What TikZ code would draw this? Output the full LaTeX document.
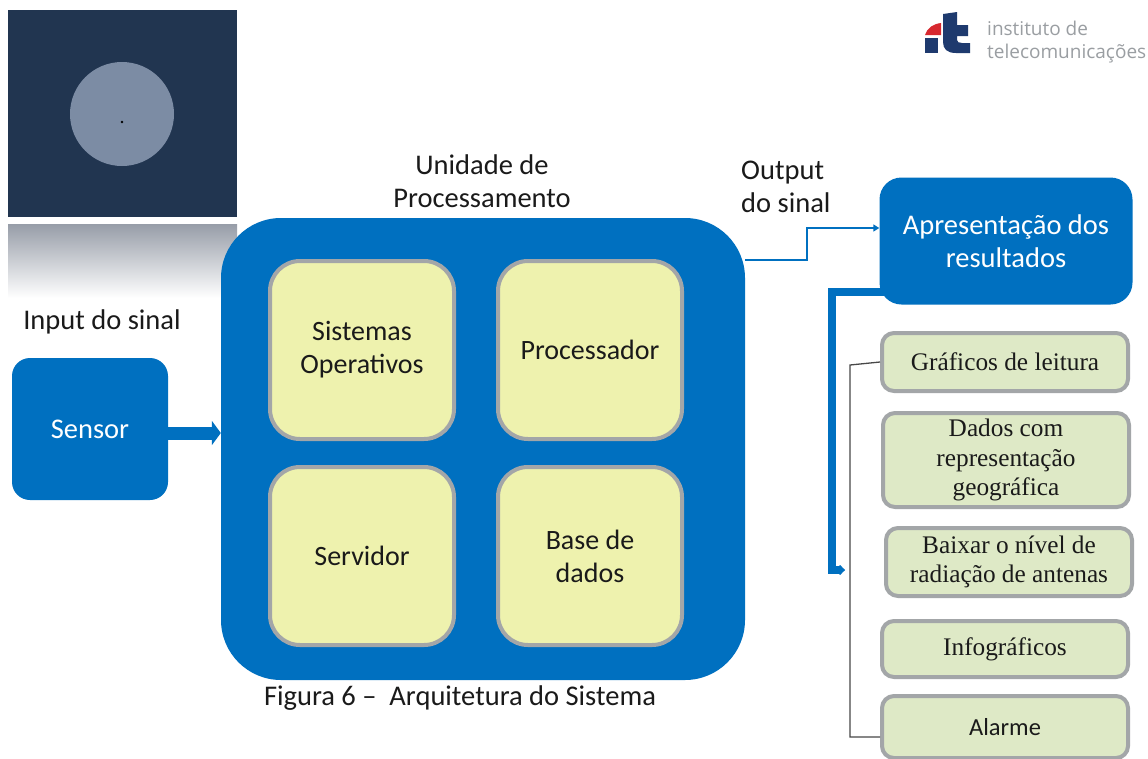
\documentclass[tikz,border=0pt]{standalone}
\usepackage{fontspec}
\setmainfont{Carlito}
\newfontfamily\serifbox{Liberation Serif}
\newfontfamily\logofont{Open Sans}
\usetikzlibrary{arrows.meta}

\definecolor{itblue}{HTML}{0070C0}
\definecolor{panel}{HTML}{213550}
\definecolor{disc}{HTML}{7C8CA4}
\definecolor{boxyellow}{HTML}{EEF2AE}
\definecolor{boxgreen}{HTML}{DEE9C6}
\definecolor{edgegray}{HTML}{A3A6A8}
\definecolor{logoblue}{HTML}{1E3A6E}
\definecolor{logored}{HTML}{D7282F}
\definecolor{logogray}{HTML}{9A9EA2}
\definecolor{bandgray}{HTML}{979DA8}
\definecolor{txt}{HTML}{1A1A1A}

\tikzset{
  bluebox/.style={fill=itblue, draw=none, rounded corners=#1, text=white,
    align=center, font=\fontsize{28.5}{33}\selectfont, inner sep=0pt},
  unitbox/.style={fill=boxyellow, draw=edgegray, line width=4pt, rounded corners=30pt,
    minimum width=184pt, minimum height=178pt, align=center, text=txt,
    font=\fontsize{28}{33}\selectfont, inner sep=0pt},
  outbox/.style={fill=boxgreen, draw=edgegray, line width=4pt, rounded corners=12pt,
    minimum width=246pt, align=center, text=txt, inner sep=0pt,
    font=\serifbox\fontsize{25.3}{29.5}\selectfont},
  label/.style={text=txt, align=center, font=\fontsize{28.5}{33}\selectfont, inner sep=0pt},
}

\begin{document}
\begin{tikzpicture}[x=1pt, y=-1pt]
  % canvas
  \fill[white] (0,0) rectangle (1148,758);
  \useasboundingbox (0,0) rectangle (1148,758);

  % sensor view panel
  \fill[panel] (8,10) rectangle (237,217);
  \fill[disc] (122,114) circle (52);
  \fill[black] (122,122) circle (1.4);
  \shade[top color=bandgray, bottom color=white] (8,224) rectangle (237,298);

  % logo
  \fill[logored] (925,35) .. controls (927,28) and (933,24) .. (941,23) -- (941,35) -- cycle;
  \fill[logoblue] (925,38) rectangle (938,53);
  \fill[logoblue] (943,14) -- (957,12) -- (957,25) -- (968,25) -- (968,36) -- (957,36)
    -- (957,40) .. controls (957,42) and (959,43) .. (962,43) -- (970,43) -- (970,53)
    -- (956,53) .. controls (947,53) and (943,49) .. (943,42) -- cycle;
  \node[text=logogray, font=\logofont\fontsize{19}{23}\selectfont, anchor=north west,
    align=left, inner sep=0pt] (logotext) at (987,21) {instituto de\\telecomunica\c{c}\~oes};

  % labels
  \node[label] (inlabel) at (102,322) {Input do sinal};
  \node[label] (unitlabel) at (482,181) {Unidade de\\Processamento};
  \node[label, anchor=west, align=left] (outlabel) at (741,187) {Output\\do sinal};
  \node[label] (caption) at (460,698) {Figura 6 --\ \ Arquitetura do Sistema};

  % blocks
  \node[bluebox=18pt, minimum width=156pt, minimum height=142pt] (sensor) at (90,429) {Sensor};
  \node[bluebox=60pt, minimum width=524pt, minimum height=462pt] (proc) at (483,449) {};
  \node[unitbox] (so) at (362,350) {Sistemas\\Operativos};
  \node[unitbox] (cpu) at (590,350) {Processador};
  \node[unitbox] (srv) at (362,556) {Servidor};
  \node[unitbox] (db) at (590,556) {Base de\\dados};
  \node[bluebox=22pt, minimum width=253pt, minimum height=127pt] (res) at (1006,241)
    {Apresenta\c{c}\~ao dos\\resultados};

  \node[outbox, minimum height=58pt] (g1) at (1005,362) {Gr\'aficos de leitura};
  \node[outbox, minimum height=94pt] (g2) at (1006,460) {Dados com\\representa\c{c}\~ao\\geogr\'afica};
  \node[outbox, minimum height=68pt] (g3) at (1009,562) {Baixar o n\'ivel de\\radia\c{c}\~ao de antenas};
  \node[outbox, minimum height=56pt] (g4) at (1005,649) {Infogr\'aficos};
  \node[outbox, minimum height=62pt, font=\fontsize{24.5}{29}\selectfont] (g5) at (1005,727) {Alarme};

  % connectors
  \draw[itblue, line width=13pt, -{Triangle[length=9pt, width=24pt]}]
    ([yshift=-4pt]sensor.east) -- ([yshift=-4pt]sensor.east -| proc.west);
  \draw[itblue, line width=1.6pt, -{Triangle[length=6pt, width=7pt]}]
    (proc.east |- 0,260) -- (807,260) |- ([yshift=13pt]res.west);
  \coordinate (split) at (845,570);
  \draw[itblue, line width=8pt, -{Latex[length=6pt, width=13pt, round]}]
    ([xshift=8pt]res.south west |- 0,292) -- (832,292) -- (832,570) -- (split);
  \draw[txt!80, line width=1.3pt]
    (g1.west) -- (850,365) -- (850,737) -- ([yshift=-10pt]g5.west);
\end{tikzpicture}
\end{document}
